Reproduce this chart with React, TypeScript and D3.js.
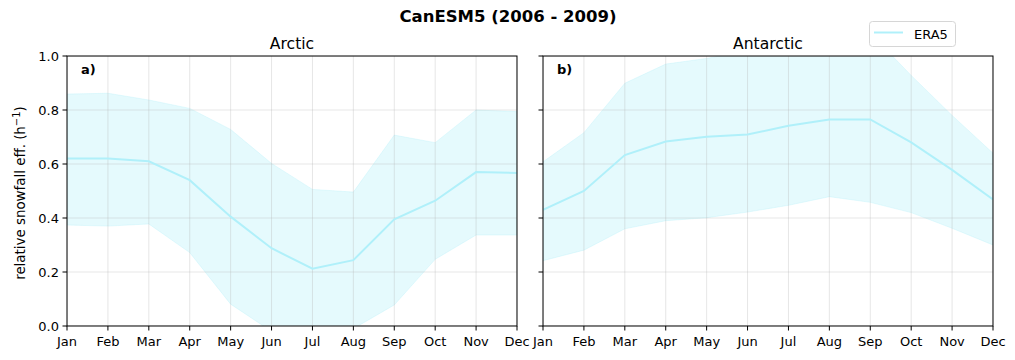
import * as d3 from 'd3';

const months = ['Jan', 'Feb', 'Mar', 'Apr', 'May', 'Jun', 'Jul', 'Aug', 'Sep', 'Oct', 'Nov', 'Dec'];
const yTicks = [0, 0.2, 0.4, 0.6, 0.8, 1.0];

// Arctic (ERA5)
const arcticMean = [0.62, 0.62, 0.61, 0.54, 0.405, 0.288, 0.212, 0.244, 0.395, 0.464, 0.57, 0.567];
const arcticUpper = [0.859, 0.862, 0.837, 0.806, 0.728, 0.602, 0.506, 0.496, 0.707, 0.679, 0.80, 0.794];
const arcticLower = [0.374, 0.37, 0.378, 0.272, 0.081, -0.02, -0.08, -0.01, 0.078, 0.247, 0.337, 0.337];

// Antarctic (ERA5)
const antarcticMean = [0.43, 0.50, 0.633, 0.683, 0.701, 0.709, 0.742, 0.765, 0.765, 0.68, 0.578, 0.469];
const antarcticUpper = [0.608, 0.716, 0.899, 0.97, 0.991, 1.02, 1.04, 1.06, 1.085, 0.928, 0.78, 0.64];
const antarcticLower = [0.242, 0.281, 0.36, 0.39, 0.401, 0.422, 0.447, 0.479, 0.458, 0.42, 0.362, 0.30];

const panels = [
    { id: 'arctic', title: 'Arctic', tag: 'a)', left: 67, mean: arcticMean, upper: arcticUpper, lower: arcticLower, yLabels: true },
    { id: 'antarctic', title: 'Antarctic', tag: 'b)', left: 543, mean: antarcticMean, upper: antarcticUpper, lower: antarcticLower, yLabels: false },
];

const lineColor = '#b0f0fa';
const font = '"DejaVu Sans", sans-serif';

const top = 56;
const plotW = 450;
const plotH = 270;

function Panel({ p }: { p: typeof panels[number] }) {
    const x = d3.scalePoint<string>().domain(months).range([0, plotW]);
    const y = d3.scaleLinear().domain([0, 1]).range([plotH, 0]);
    const idx = months.map((_, i) => i);

    const area = d3.area<number>()
        .x(i => x(months[i])!)
        .y0(i => y(p.lower[i]))
        .y1(i => y(p.upper[i]));
    const line = d3.line<number>()
        .x(i => x(months[i])!)
        .y(i => y(p.mean[i]));

    return (
        <g transform={`translate(${p.left},${top})`}>
            <defs>
                <clipPath id={`clip-${p.id}`}>
                    <rect x={0} y={0} width={plotW} height={plotH} />
                </clipPath>
            </defs>
            <g clipPath={`url(#clip-${p.id})`}>
                <path d={area(idx)!} fill={lineColor} fillOpacity={0.33} stroke={lineColor} strokeOpacity={0.3} strokeWidth={1} />
                {months.map(m => (
                    <line key={m} x1={x(m)} x2={x(m)} y1={0} y2={plotH} stroke="#b0b0b0" strokeOpacity={0.4} strokeWidth={0.8} />
                ))}
                {yTicks.map(t => (
                    <line key={t} x1={0} x2={plotW} y1={y(t)} y2={y(t)} stroke="#b0b0b0" strokeOpacity={0.4} strokeWidth={0.8} />
                ))}
                <path d={line(idx)!} fill="none" stroke={lineColor} strokeWidth={2} />
            </g>
            <rect x={0} y={0} width={plotW} height={plotH} fill="none" stroke="#000" strokeWidth={1} />
            {months.map(m => (
                <g key={m} transform={`translate(${x(m)},${plotH})`}>
                    <line y1={0} y2={4.5} stroke="#000" />
                    <text y={20} textAnchor="middle" fontSize={13} fontFamily={font}>{m}</text>
                </g>
            ))}
            {yTicks.map(t => (
                <g key={t} transform={`translate(0,${y(t)})`}>
                    <line x1={0} x2={-4.5} stroke="#000" />
                    {p.yLabels && (
                        <text x={-8} dy="0.35em" textAnchor="end" fontSize={13} fontFamily={font}>{d3.format('.1f')(t)}</text>
                    )}
                </g>
            ))}
            <text x={plotW / 2} y={-7} textAnchor="middle" fontSize={15.6} fontFamily={font}>{p.title}</text>
            <text x={14} y={18} fontSize={13} fontWeight="bold" fontFamily={font}>{p.tag}</text>
        </g>
    );
}

export default function App() {
    return (
        <svg width={1015} height={360} style={{ position: 'absolute', left: 0, top: 0, background: '#fff' }}>
            <rect width={1015} height={360} fill="#fff" />
            <text x={508} y={22} textAnchor="middle" fontSize={16.5} fontWeight="bold" fontFamily={font}>CanESM5 (2006 - 2009)</text>
            {panels.map(p => <Panel key={p.id} p={p} />)}
            <text transform="translate(25,193) rotate(-90)" textAnchor="middle" fontSize={13.4} fontFamily={font}>
                relative snowfall eff. (h<tspan dy={-5} fontSize={10}>−1</tspan><tspan dy={5}>)</tspan>
            </text>
            <g>
                <rect x={869.5} y={21.5} width={86} height={25} rx={3} fill="#fff" fillOpacity={0.8} stroke="#d6d6d6" />
                <line x1={874} x2={903} y1={32.5} y2={32.5} stroke={lineColor} strokeWidth={2} />
                <text x={914} y={38.5} fontSize={13} fontFamily={font}>ERA5</text>
            </g>
        </svg>
    );
}
